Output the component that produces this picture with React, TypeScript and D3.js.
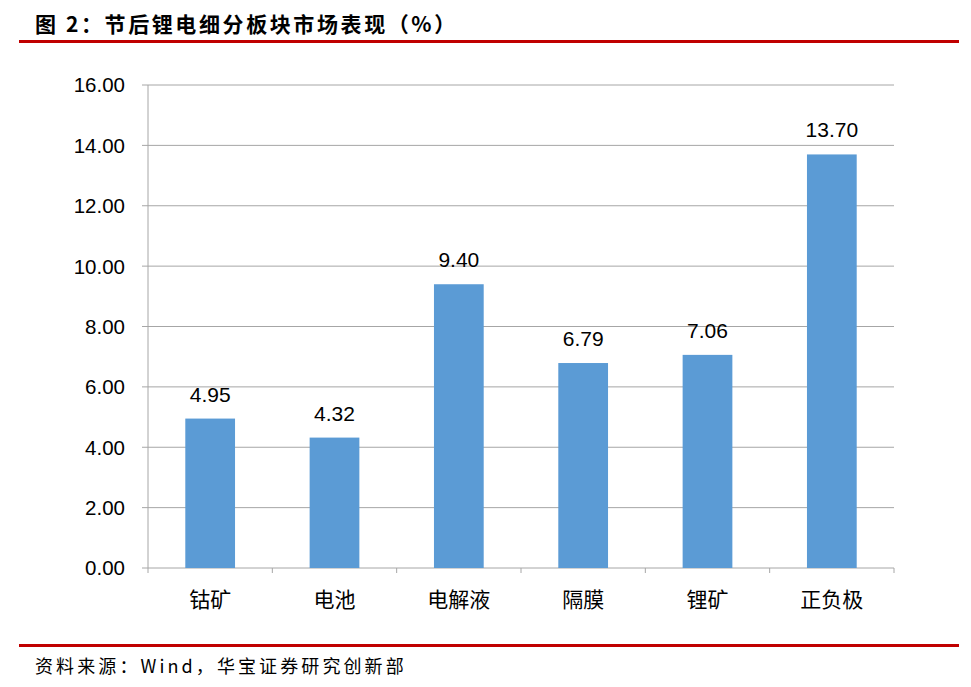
import React from "react";
import * as d3 from "d3";

const categories = ["钴矿", "电池", "电解液", "隔膜", "锂矿", "正负极"];
const values = [4.95, 4.32, 9.4, 6.79, 7.06, 13.7];
const yTicks = [0, 2, 4, 6, 8, 10, 12, 14, 16];

const W = 971;
const H = 687;
const left = 148;
const right = 894;
const top = 85;
const bottom = 568;

export default function App() {
  const x = d3.scaleBand<string>().domain(categories).range([left, right]).paddingInner(0.6).paddingOuter(0.3);
  const band = d3.scaleBand<string>().domain(categories).range([left, right]);
  const y = d3.scaleLinear().domain([0, 16]).range([bottom, top]);
  const font = "'Liberation Sans', Arial, sans-serif";
  const cjk = "'Noto Sans CJK SC', sans-serif";
  return (
    <svg width={W} height={H} style={{ position: "absolute", left: 0, top: 0, background: "#fff" }}>
      <rect x={0} y={0} width={W} height={H} fill="#fff" />
      <text x={35} y={32} fontSize={21} fontWeight="bold" fontFamily={cjk} fill="#000" letterSpacing={2.6}>
        图 2：节后锂电细分板块市场表现（%）
      </text>
      <rect x={19} y={40} width={940} height={3} fill="#C00000" />
      {yTicks.map((t) => (
        <g key={t}>
          <line x1={left - 6} x2={right} y1={y(t)} y2={y(t)} stroke="#A6A6A6" strokeWidth={1} />
          <text x={125} y={y(t)} dy="0.36em" textAnchor="end" fontSize={20.5} fontFamily={font} fill="#000">
            {t.toFixed(2)}
          </text>
        </g>
      ))}
      <line x1={left} x2={left} y1={top} y2={bottom} stroke="#A6A6A6" strokeWidth={1} />
      {categories.map((c) => (
        <line key={"t" + c} x1={(band(c) as number) + band.bandwidth()} x2={(band(c) as number) + band.bandwidth()} y1={bottom} y2={bottom + 5} stroke="#A6A6A6" />
      ))}
      <line x1={left} x2={left} y1={bottom} y2={bottom + 5} stroke="#A6A6A6" />
      {categories.map((c, i) => (
        <g key={c}>
          <rect x={x(c)} y={y(values[i])} width={x.bandwidth()} height={bottom - y(values[i])} fill="#5B9BD5" />
          <text x={(x(c) as number) + x.bandwidth() / 2} y={y(values[i]) - 17} textAnchor="middle" fontSize={21} fontFamily={font} fill="#000">
            {values[i].toFixed(2)}
          </text>
          <text x={(band(c) as number) + band.bandwidth() / 2} y={607} textAnchor="middle" fontSize={21} fontFamily={cjk} fill="#000">
            {c}
          </text>
        </g>
      ))}
      <rect x={19} y={644} width={940} height={3} fill="#C00000" />
      <text x={35} y={673} fontSize={18} fontFamily={cjk} fill="#000" letterSpacing={3.1}>
        资料来源：Wind，华宝证券研究创新部
      </text>
    </svg>
  );
}
